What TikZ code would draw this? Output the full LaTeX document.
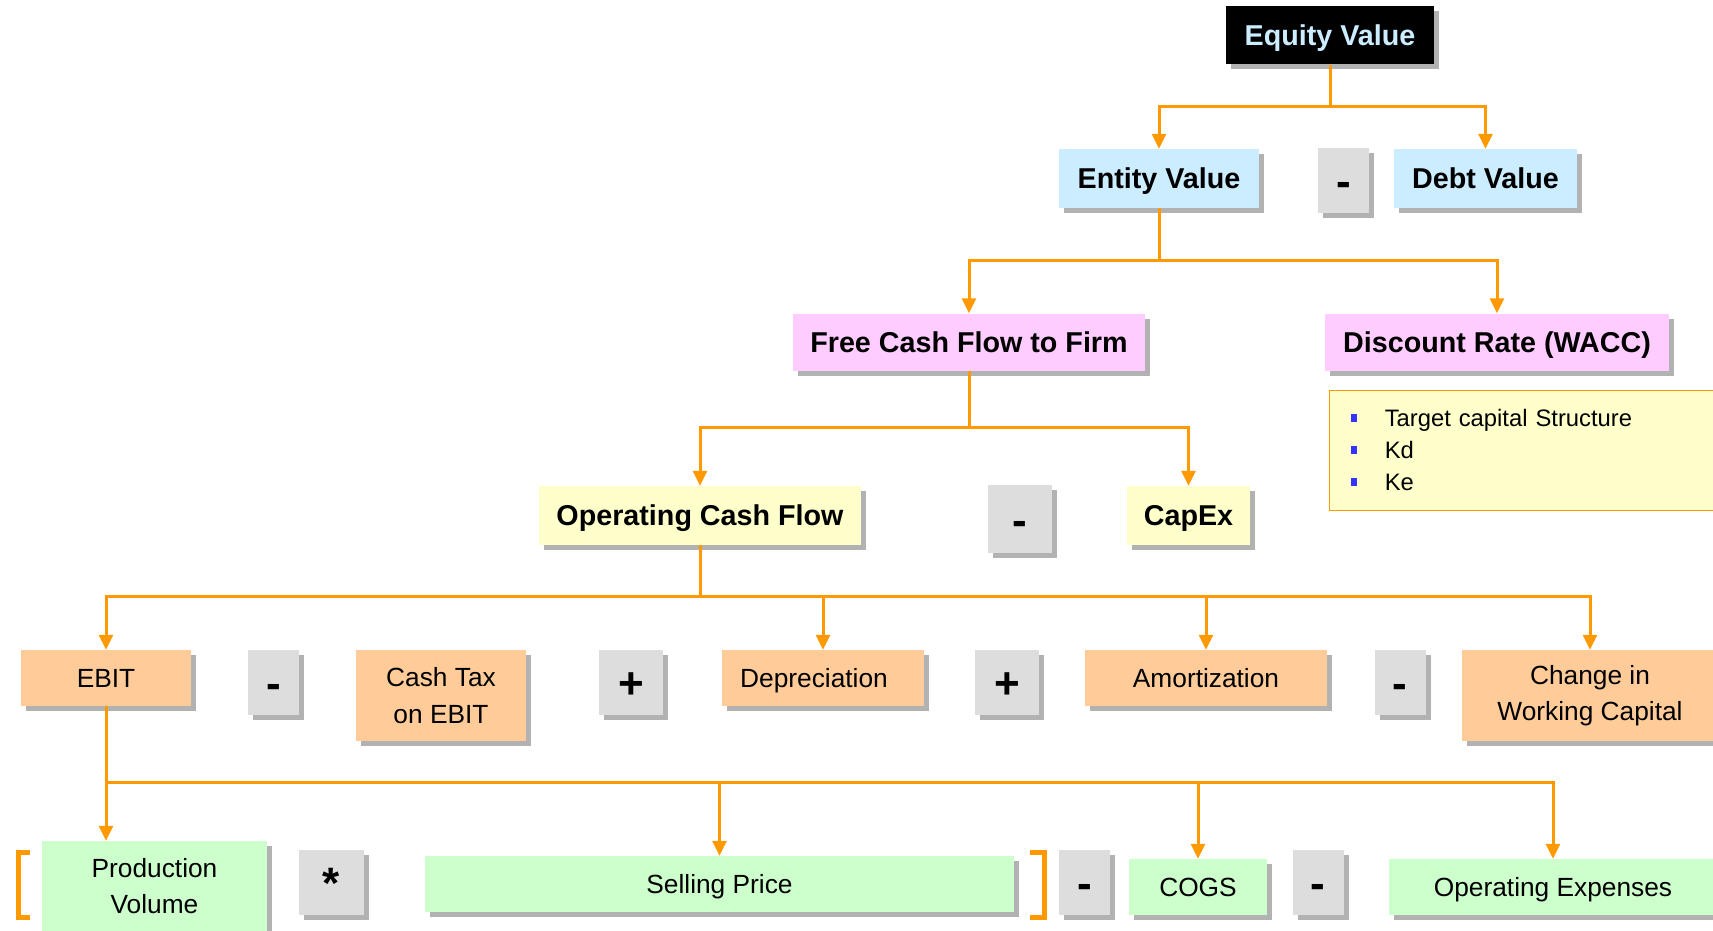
\documentclass[tikz,border=0pt]{standalone}
\usepackage{fontspec}
\setmainfont{Liberation Sans}
\usepackage{tikz}
\usetikzlibrary{shadows, arrows.meta}
\definecolor{ln}{RGB}{255,153,0}
\definecolor{lb}{RGB}{204,236,255}
\definecolor{pk}{RGB}{255,204,255}
\definecolor{yl}{RGB}{255,255,204}
\definecolor{pc}{RGB}{255,204,153}
\definecolor{gn}{RGB}{204,255,204}
\definecolor{gy}{RGB}{221,221,221}
\definecolor{sh}{RGB}{178,178,178}
\definecolor{bl}{RGB}{51,51,255}
\newcommand{\blt}{\textcolor{bl}{\rule[5pt]{6pt}{7.5pt}}\hspace{28pt}}

\begin{document}
\begin{tikzpicture}[x=1pt, y=-1pt,
                    box/.style = {rectangle, inner sep=0pt, align=center,
                                  general shadow={fill=sh, shadow xshift=5pt, shadow yshift=-5pt}},
                    head/.style = {box, font=\fontsize{28.7}{34}\selectfont\bfseries, minimum height=58pt,
                                   text height=20.7pt, text depth=0pt},
                    item/.style = {box, font=\fontsize{26.3}{36.5}\selectfont, minimum height=56pt,
                                   text height=18.9pt, text depth=0pt},
                    twoline/.style = {box, font=\fontsize{26.3}{36.5}\selectfont, minimum height=91pt},
                    op/.style = {box, fill=gy, font=\fontsize{44}{44}\selectfont\bfseries, minimum height=65pt,
                                 text height=32pt, text depth=0pt},
                    link/.style = {draw=ln, line width=3pt, -{Triangle[length=15pt, width=14pt]}},
                    bar/.style = {draw=ln, line width=5pt}]
    \useasboundingbox (0,0) rectangle (1713,931);
    \clip (0,0) rectangle (1713,931);
    % level 1 and 2
    \node (equity) [head, fill=black, text=lb, minimum width=208pt] at (1330,35.5)  {Equity Value};
    \node (entity) [head, fill=lb, minimum width=200pt, minimum height=59pt] at (1159,178.5) {Entity Value};
    \node (m1)     [op, minimum width=51pt]                         at (1343.5,180.5) {-};
    \node (debt)   [head, fill=lb, minimum width=183pt, minimum height=59pt] at (1485.5,178.5) {Debt Value};
    % level 3
    \node (fcff) [head, fill=pk, minimum width=352pt, minimum height=57pt] at (969,342)  {Free Cash Flow to Firm};
    \node (wacc) [head, fill=pk, minimum width=344pt, minimum height=57pt] at (1497,342) {Discount Rate (WACC)};
    \node (drivers) [rectangle, draw=ln, fill=yl, line width=1.5pt, anchor=north west,
                     inner xsep=21.5pt, inner ysep=0pt, text width=380pt, minimum height=120pt,
                     align=left, font=\fontsize{23.8}{32}\selectfont] at (1328.5,389.5)
        {\blt Target capital Structure\\ \blt Kd\\ \blt Ke};
    % level 4
    \node (ocf)   [head, fill=yl, minimum width=322pt, minimum height=59pt] at (700,515.5) {Operating Cash Flow};
    \node (m2)    [op, minimum width=64pt, minimum height=68pt]             at (1020,519)  {-};
    \node (capex) [head, fill=yl, minimum width=123pt, minimum height=59pt] at (1188.5,515.5) {CapEx};
    % level 5
    \node (ebit)  [item, fill=pc, minimum width=170pt]     at (106,678)     {EBIT};
    \node (m3)    [op, minimum width=51pt]                 at (273.5,682.5) {-};
    \node (tax)   [twoline, fill=pc, minimum width=170pt]  at (441,695.5)   {Cash Tax\\on EBIT};
    \node (p1)    [op, minimum width=64pt]                 at (631,682.5)   {+};
    \node (dep)   [item, fill=pc, minimum width=202pt]     at (823,678)     {Depreciation\kern18pt};
    \node (p2)    [op, minimum width=64pt]                 at (1007,682.5)  {+};
    \node (amort) [item, fill=pc, minimum width=242pt]     at (1206,678)    {Amortization};
    \node (m4)    [op, minimum width=51pt]                 at (1400,682.5)  {-};
    \node (dwc)   [twoline, fill=pc, minimum width=256pt]  at (1590,695.5)  {Change in\\Working Capital};
    % level 6
    \node (vol)   [twoline, fill=gn, minimum width=225pt, minimum height=90pt] at (154.5,886) {Production\\Volume};
    \node (star)  [op, minimum width=65pt]                 at (331.5,882.5) {*};
    \node (price) [item, fill=gn, minimum width=589pt]     at (719.5,884)   {Selling Price};
    \node (m5)    [op, minimum width=51pt]                 at (1084.5,882.5) {-};
    \node (cogs)  [item, fill=gn, minimum width=138pt]     at (1198,887)    {COGS};
    \node (m6)    [op, minimum width=51pt]                 at (1318,882.5)  {-};
    \node (opex)  [item, fill=gn, minimum width=328pt]     at (1553,887)    {Operating Expenses};
    % brackets
    \draw[bar] (30,852.5) -- (18,852.5) -- (18,917.5) -- (30,917.5);
    \draw[bar] (1030,852.5) -- (1044,852.5) -- (1044,917.5) -- (1030,917.5);
    % links
    \coordinate (b1) at (1330,106.7);
    \draw[link] (equity.south) -- (b1) -| (entity.north);
    \draw[link] (b1) -| (debt.north);
    \coordinate (b2) at (1159,260);
    \draw[link] (entity.south) -- (b2) -| (fcff.north);
    \draw[link] (b2) -| (wacc.north);
    \coordinate (b3) at (969,427);
    \draw[link] (fcff.south) -- (b3) -| (ocf.north);
    \draw[link] (b3) -| (capex.north);
    \coordinate (b4) at (700,596.5);
    \draw[link] (ocf.south) -- (b4) -| (ebit.north);
    \draw[link] (b4) -| (dep.north);
    \draw[link] (b4) -| (amort.north);
    \draw[link] (b4) -| (dwc.north);
    \coordinate (b5) at (106,782);
    \draw[link] (ebit.south) -- (ebit.south |- vol.north);
    \draw[link] (b5) -| (price.north);
    \draw[link] (b5) -| (cogs.north);
    \draw[link] (b5) -| (opex.north);
\end{tikzpicture}
\end{document}
